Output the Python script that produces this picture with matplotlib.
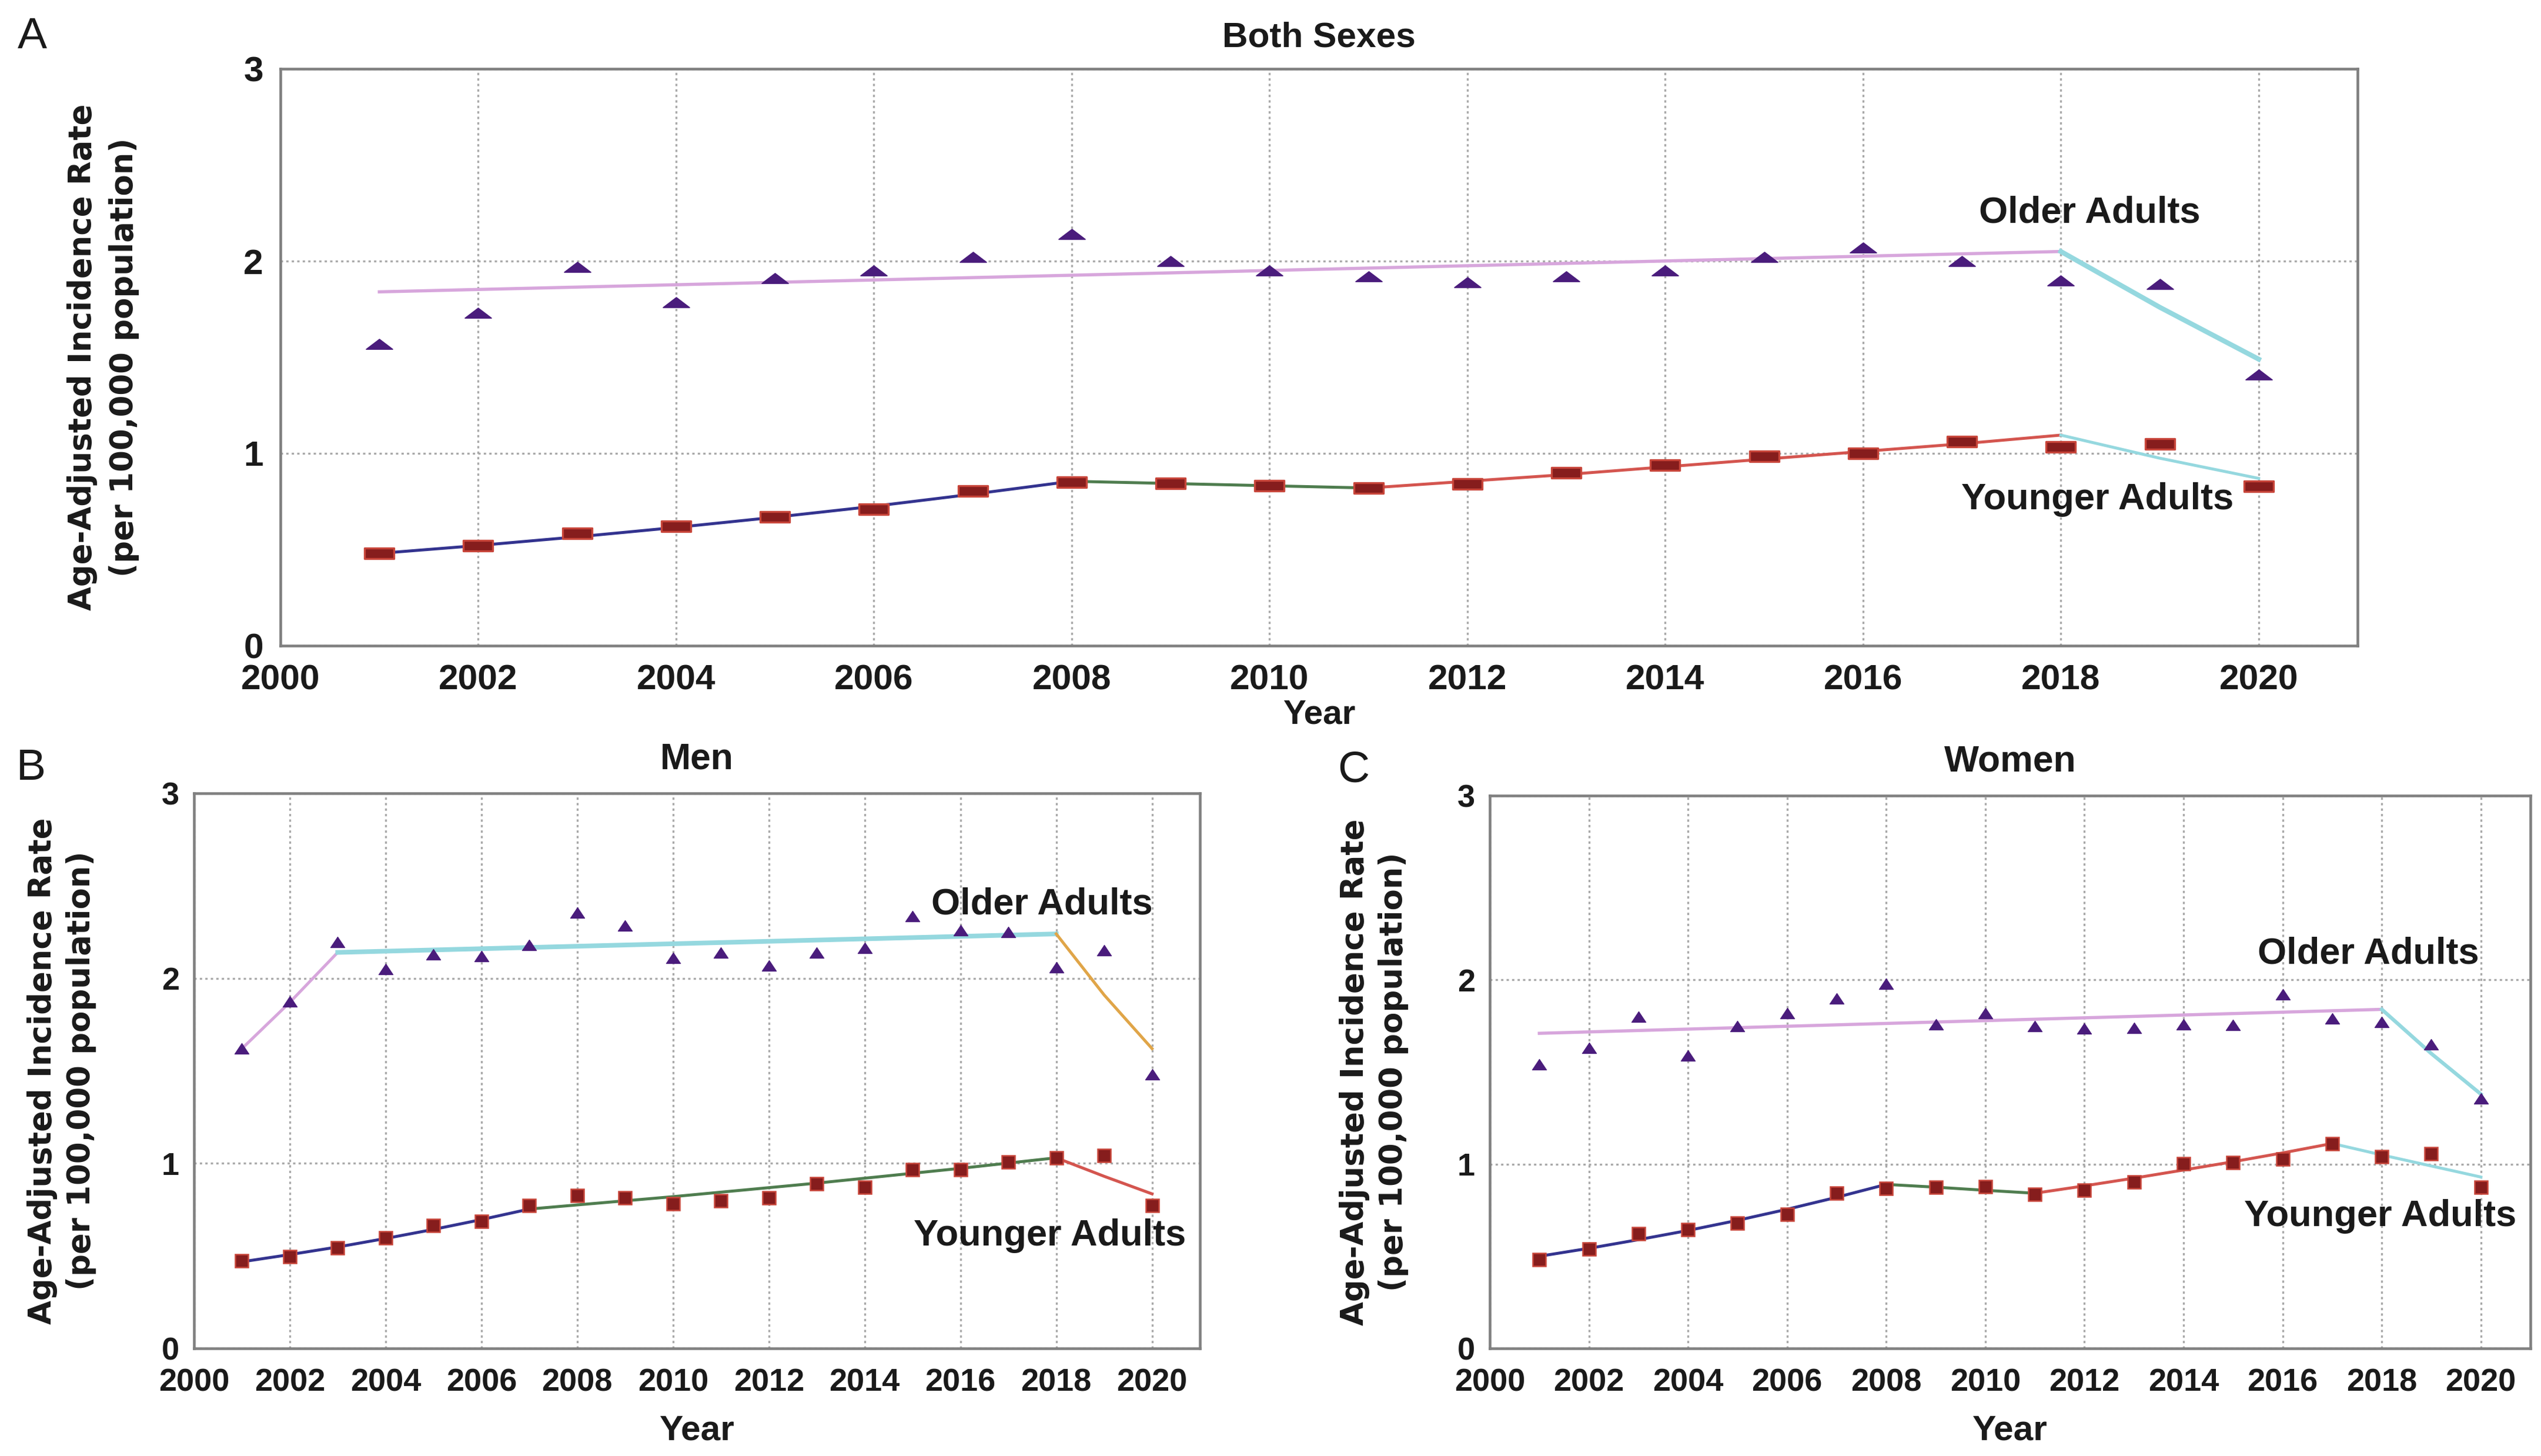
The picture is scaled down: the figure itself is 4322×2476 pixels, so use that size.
import matplotlib
matplotlib.use('Agg')
import matplotlib.pyplot as plt
from matplotlib.path import Path

# ---------------- data ----------------
years = list(range(2001, 2021))
x_ticks = list(range(2000, 2021, 2))
y_ticks = [0, 1, 2, 3]

# Panel A: Both sexes (observed)
both_older = [1.57, 1.73, 1.97, 1.785, 1.91, 1.95, 2.02, 2.14, 2.00, 1.95,
              1.92, 1.89, 1.92, 1.95, 2.02, 2.07, 2.00, 1.90, 1.88, 1.41]
both_younger = [0.48, 0.52, 0.585, 0.62, 0.67, 0.71, 0.805, 0.85, 0.845, 0.832,
                0.82, 0.84, 0.90, 0.94, 0.985, 1.00, 1.06, 1.035, 1.05, 0.83]
# Panel A fitted joinpoint segments
both_old_fit1_x = [2001, 2018]
both_old_fit1_y = [1.84, 2.05]
both_old_fit2_x = [2018, 2019, 2020]
both_old_fit2_y = [2.05, 1.76, 1.49]
both_yng_fit1_x = [2001, 2002, 2003, 2004, 2005, 2006, 2007, 2008]
both_yng_fit1_y = [0.48, 0.521, 0.566, 0.615, 0.668, 0.725, 0.788, 0.855]
both_yng_fit2_x = [2008, 2011]
both_yng_fit2_y = [0.855, 0.82]
both_yng_fit3_x = [2011, 2012, 2013, 2014, 2015, 2016, 2017, 2018]
both_yng_fit3_y = [0.82, 0.855, 0.89, 0.93, 0.97, 1.01, 1.05, 1.095]
both_yng_fit4_x = [2018, 2019, 2020]
both_yng_fit4_y = [1.095, 0.975, 0.87]

# Panel B: Men (observed)
men_older = [1.62, 1.875, 2.195, 2.05, 2.13, 2.12, 2.18, 2.355, 2.285, 2.11,
             2.14, 2.07, 2.14, 2.165, 2.335, 2.26, 2.25, 2.06, 2.15, 1.48]
men_younger = [0.475, 0.497, 0.543, 0.597, 0.665, 0.688, 0.771, 0.825, 0.815, 0.781,
               0.799, 0.812, 0.89, 0.871, 0.965, 0.967, 1.008, 1.029, 1.042, 0.773]
men_old_fit1_x = [2001, 2002, 2003]
men_old_fit1_y = [1.62, 1.87, 2.14]
men_old_fit2_x = [2003, 2018]
men_old_fit2_y = [2.14, 2.24]
men_old_fit3_x = [2018, 2019, 2020]
men_old_fit3_y = [2.24, 1.91, 1.62]
men_yng_fit1_x = [2001, 2002, 2003, 2004, 2005, 2006, 2007]
men_yng_fit1_y = [0.468, 0.507, 0.548, 0.594, 0.643, 0.696, 0.753]
men_yng_fit2_x = [2007, 2010, 2013, 2016, 2018]
men_yng_fit2_y = [0.753, 0.82, 0.893, 0.973, 1.03]
men_yng_fit3_x = [2018, 2019, 2020]
men_yng_fit3_y = [1.03, 0.93, 0.835]

# Panel C: Women (observed)
women_older = [1.54, 1.63, 1.80, 1.59, 1.75, 1.82, 1.90, 1.98, 1.76, 1.82,
               1.75, 1.735, 1.74, 1.76, 1.755, 1.92, 1.79, 1.77, 1.65, 1.355]
women_younger = [0.483, 0.54, 0.621, 0.644, 0.681, 0.727, 0.844, 0.868, 0.875, 0.878,
                 0.836, 0.86, 0.904, 1.003, 1.008, 1.029, 1.112, 1.039, 1.057, 0.875]
women_old_fit1_x = [2001, 2018]
women_old_fit1_y = [1.71, 1.84]
women_old_fit2_x = [2018, 2019, 2020]
women_old_fit2_y = [1.84, 1.60, 1.38]
women_yng_fit1_x = [2001, 2002, 2003, 2004, 2005, 2006, 2007, 2008]
women_yng_fit1_y = [0.50, 0.543, 0.59, 0.64, 0.695, 0.755, 0.82, 0.89]
women_yng_fit2_x = [2008, 2009, 2010, 2011]
women_yng_fit2_y = [0.89, 0.875, 0.858, 0.842]
women_yng_fit3_x = [2011, 2012, 2013, 2014, 2015, 2016, 2017]
women_yng_fit3_y = [0.842, 0.882, 0.924, 0.968, 1.013, 1.061, 1.112]
women_yng_fit4_x = [2017, 2018, 2019, 2020]
women_yng_fit4_y = [1.112, 1.05, 0.99, 0.93]

# ---------------- style ----------------
FAM = ['Liberation Sans', 'DejaVu Sans']
YLAB_FAM = ['DejaVu Sans']
TXT_C = '#1a1a1a'
C_TRI = '#4a1c7c'
C_SQ_FACE = '#861d1d'
C_SQ_EDGE = '#c8453a'
C_PINK = '#d7a6dc'
C_CYAN = '#95d8df'
C_BLUE = '#33338f'
C_GREEN = '#4f7d4f'
C_RED = '#d4554f'
C_ORANGE = '#e0a548'
GRID_C = '#a9a9a9'
SPINE_C = '#808080'

tri_flat = Path([(-1, -0.38), (1, -0.38), (0, 0.38), (-1, -0.38)],
                [Path.MOVETO, Path.LINETO, Path.LINETO, Path.CLOSEPOLY])
sq_flat = Path([(-1, -0.36), (1, -0.36), (1, 0.36), (-1, 0.36), (-1, -0.36)],
               [Path.MOVETO, Path.LINETO, Path.LINETO, Path.LINETO, Path.CLOSEPOLY])
tri_b = Path([(-1, -0.75), (1, -0.75), (0, 0.75), (-1, -0.75)],
             [Path.MOVETO, Path.LINETO, Path.LINETO, Path.CLOSEPOLY])

W, H = 4322, 2476
fig = plt.figure(figsize=(W / 300, H / 300), dpi=300)
fig.patch.set_facecolor('white')


def rect(l, r, t, b):
    return [l / W, 1 - b / H, (r - l) / W, (b - t) / H]


def style_axes(ax, tick_fs, xpad, ypad):
    ax.set_xlim(2000, 2021)
    ax.set_ylim(0, 3)
    ax.set_xticks(x_ticks)
    ax.set_yticks(y_ticks)
    ax.set_xticklabels([str(t) for t in x_ticks])
    ax.set_yticklabels([str(t) for t in y_ticks])
    ax.tick_params(axis='both', length=0, labelsize=tick_fs)
    ax.tick_params(axis='x', pad=xpad)
    ax.tick_params(axis='y', pad=ypad)
    for lab in ax.get_xticklabels() + ax.get_yticklabels():
        lab.set_fontweight('bold')
        lab.set_family(FAM)
        lab.set_color(TXT_C)
    ax.grid(True, linestyle=(0, (1.2, 1.6)), color=GRID_C, linewidth=0.8)
    ax.set_axisbelow(True)
    for s in ax.spines.values():
        s.set_color(SPINE_C)
        s.set_linewidth(1.1)


def ylab(ax, xcoord, fs, ls):
    ax.set_ylabel('Age-Adjusted Incidence Rate\n(per 100,000 population)',
                  fontsize=fs, fontweight='bold', family=YLAB_FAM,
                  linespacing=ls, color=TXT_C)
    ax.yaxis.set_label_coords(xcoord, 0.5)


def label(ax, x, y, s):
    ax.text(x, y, s, ha='center', va='center', fontsize=15.2,
            fontweight='bold', family=FAM, color=TXT_C)


# ---------------- Panel A ----------------
axA = fig.add_axes(rect(477, 4010, 117, 1098))
style_axes(axA, 14.5, 7.5, 7)
axA.plot(both_old_fit1_x, both_old_fit1_y, color=C_PINK, lw=1.3, zorder=2)
axA.plot(both_old_fit2_x, both_old_fit2_y, color=C_CYAN, lw=2.0, zorder=2)
axA.plot(both_yng_fit1_x, both_yng_fit1_y, color=C_BLUE, lw=1.2, zorder=2)
axA.plot(both_yng_fit2_x, both_yng_fit2_y, color=C_GREEN, lw=1.2, zorder=2)
axA.plot(both_yng_fit3_x, both_yng_fit3_y, color=C_RED, lw=1.2, zorder=2)
axA.plot(both_yng_fit4_x, both_yng_fit4_y, color=C_CYAN, lw=1.2, zorder=2)
axA.plot(years, both_older, linestyle='none', marker=tri_flat, markersize=10.8,
         color=C_TRI, markeredgecolor=C_TRI, markeredgewidth=0.4, zorder=3)
axA.plot(years, both_younger, linestyle='none', marker=sq_flat, markersize=12,
         markerfacecolor=C_SQ_FACE, markeredgecolor=C_SQ_EDGE, markeredgewidth=0.8, zorder=3)
label(axA, 2018.29, 2.25, 'Older Adults')
label(axA, 2018.37, 0.76, 'Younger Adults')
axA.set_title('Both Sexes', fontsize=14.5, fontweight='bold', family=FAM, pad=9, color=TXT_C)
axA.set_xlabel('Year', fontsize=14, fontweight='bold', family=FAM, labelpad=1, color=TXT_C)
ylab(axA, -0.068, 12.7, 1.45)

# ---------------- Panel B ----------------
axB = fig.add_axes(rect(330, 2041, 1349, 2293))
style_axes(axB, 13, 8, 6)
axB.plot(men_old_fit1_x, men_old_fit1_y, color=C_PINK, lw=1.2, zorder=2)
axB.plot(men_old_fit2_x, men_old_fit2_y, color=C_CYAN, lw=1.9, zorder=2)
axB.plot(men_old_fit3_x, men_old_fit3_y, color=C_ORANGE, lw=1.2, zorder=2)
axB.plot(men_yng_fit1_x, men_yng_fit1_y, color=C_BLUE, lw=1.2, zorder=2)
axB.plot(men_yng_fit2_x, men_yng_fit2_y, color=C_GREEN, lw=1.2, zorder=2)
axB.plot(men_yng_fit3_x, men_yng_fit3_y, color=C_RED, lw=1.2, zorder=2)
axB.plot(years, men_older, linestyle='none', marker=tri_b, markersize=5.8,
         color=C_TRI, markeredgewidth=0.3, zorder=3)
axB.plot(years, men_younger, linestyle='none', marker='s', markersize=5.4,
         markerfacecolor=C_SQ_FACE, markeredgecolor=C_SQ_EDGE, markeredgewidth=0.6, zorder=3)
label(axB, 2017.7, 2.40, 'Older Adults')
label(axB, 2017.87, 0.61, 'Younger Adults')
axB.set_title('Men', fontsize=15, fontweight='bold', family=FAM, pad=10, color=TXT_C)
axB.set_xlabel('Year', fontsize=14.5, fontweight='bold', family=FAM, labelpad=7, color=TXT_C)
ylab(axB, -0.097, 12.7, 1.35)

# ---------------- Panel C ----------------
axC = fig.add_axes(rect(2534, 4304, 1353, 2293))
style_axes(axC, 13, 8, 6)
axC.plot(women_old_fit1_x, women_old_fit1_y, color=C_PINK, lw=1.3, zorder=2)
axC.plot(women_old_fit2_x, women_old_fit2_y, color=C_CYAN, lw=1.5, zorder=2)
axC.plot(women_yng_fit1_x, women_yng_fit1_y, color=C_BLUE, lw=1.2, zorder=2)
axC.plot(women_yng_fit2_x, women_yng_fit2_y, color=C_GREEN, lw=1.2, zorder=2)
axC.plot(women_yng_fit3_x, women_yng_fit3_y, color=C_RED, lw=1.2, zorder=2)
axC.plot(women_yng_fit4_x, women_yng_fit4_y, color=C_CYAN, lw=1.2, zorder=2)
axC.plot(years, women_older, linestyle='none', marker=tri_b, markersize=5.8,
         color=C_TRI, markeredgewidth=0.3, zorder=3)
axC.plot(years, women_younger, linestyle='none', marker='s', markersize=5.4,
         markerfacecolor=C_SQ_FACE, markeredgecolor=C_SQ_EDGE, markeredgewidth=0.6, zorder=3)
label(axC, 2017.73, 2.14, 'Older Adults')
label(axC, 2017.97, 0.715, 'Younger Adults')
axC.set_title('Women', fontsize=15, fontweight='bold', family=FAM, pad=10, color=TXT_C)
axC.set_xlabel('Year', fontsize=14.5, fontweight='bold', family=FAM, labelpad=7, color=TXT_C)
ylab(axC, -0.078, 12.7, 1.35)

# ---------------- panel letters ----------------
for letter, px, py in [('A', 55, 62), ('B', 53, 1306), ('C', 2302, 1310)]:
    fig.text(px / W, 1 - py / H, letter, ha='center', va='center', fontsize=18,
             family=FAM, color=TXT_C)

fig.savefig('out.png', dpi=300, facecolor='white')
